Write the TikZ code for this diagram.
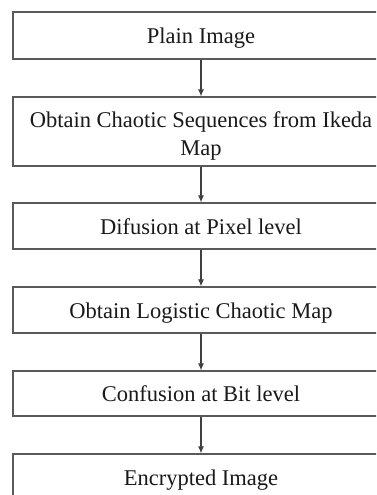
\documentclass[tikz,border=0pt]{standalone}
\usepackage{fontspec}
\setmainfont{Liberation Serif}
\usetikzlibrary{arrows.meta}
\definecolor{edge}{HTML}{5A5A5A}
\begin{document}
\begin{tikzpicture}[x=1pt,y=-1pt,
  stepbox/.style={draw=edge,line width=1.3pt,rectangle,minimum width=376pt,inner sep=0pt,
    align=center,font=\fontsize{22.5}{27.5}\selectfont,text=black!90},
  oneline/.style={text height=17pt,text depth=1pt},
  flow/.style={draw=black!75,line width=1.1pt,-{Latex[length=7pt,width=6pt]}}]
\useasboundingbox (0,0) rectangle (376,495);
\clip (0,0) rectangle (376,495);
\node[stepbox,oneline,minimum height=47pt] (b1) at (201,35.5) {Plain Image};
\node[stepbox,minimum height=69pt] (b2) at (201,131.5) {\begin{tabular}{@{}c@{}}\rule{0pt}{27.75pt}Obtain Chaotic Sequences from Ikeda\\Map\end{tabular}};
\node[stepbox,oneline,minimum height=46pt] (b3) at (201,226) {Difusion at Pixel level};
\node[stepbox,oneline,minimum height=46pt] (b4) at (201,310) {Obtain Logistic Chaotic Map};
\node[stepbox,oneline,minimum height=45pt] (b5) at (201,393.5) {Confusion at Bit level};
\node[stepbox,oneline,minimum height=46pt] (b6) at (201,477) {Encrypted Image};
\draw[flow] (b1) -- (b2);
\draw[flow] (b2) -- (b3);
\draw[flow] (b3) -- (b4);
\draw[flow] (b4) -- (b5);
\draw[flow] (b5) -- (b6);
\end{tikzpicture}
\end{document}
